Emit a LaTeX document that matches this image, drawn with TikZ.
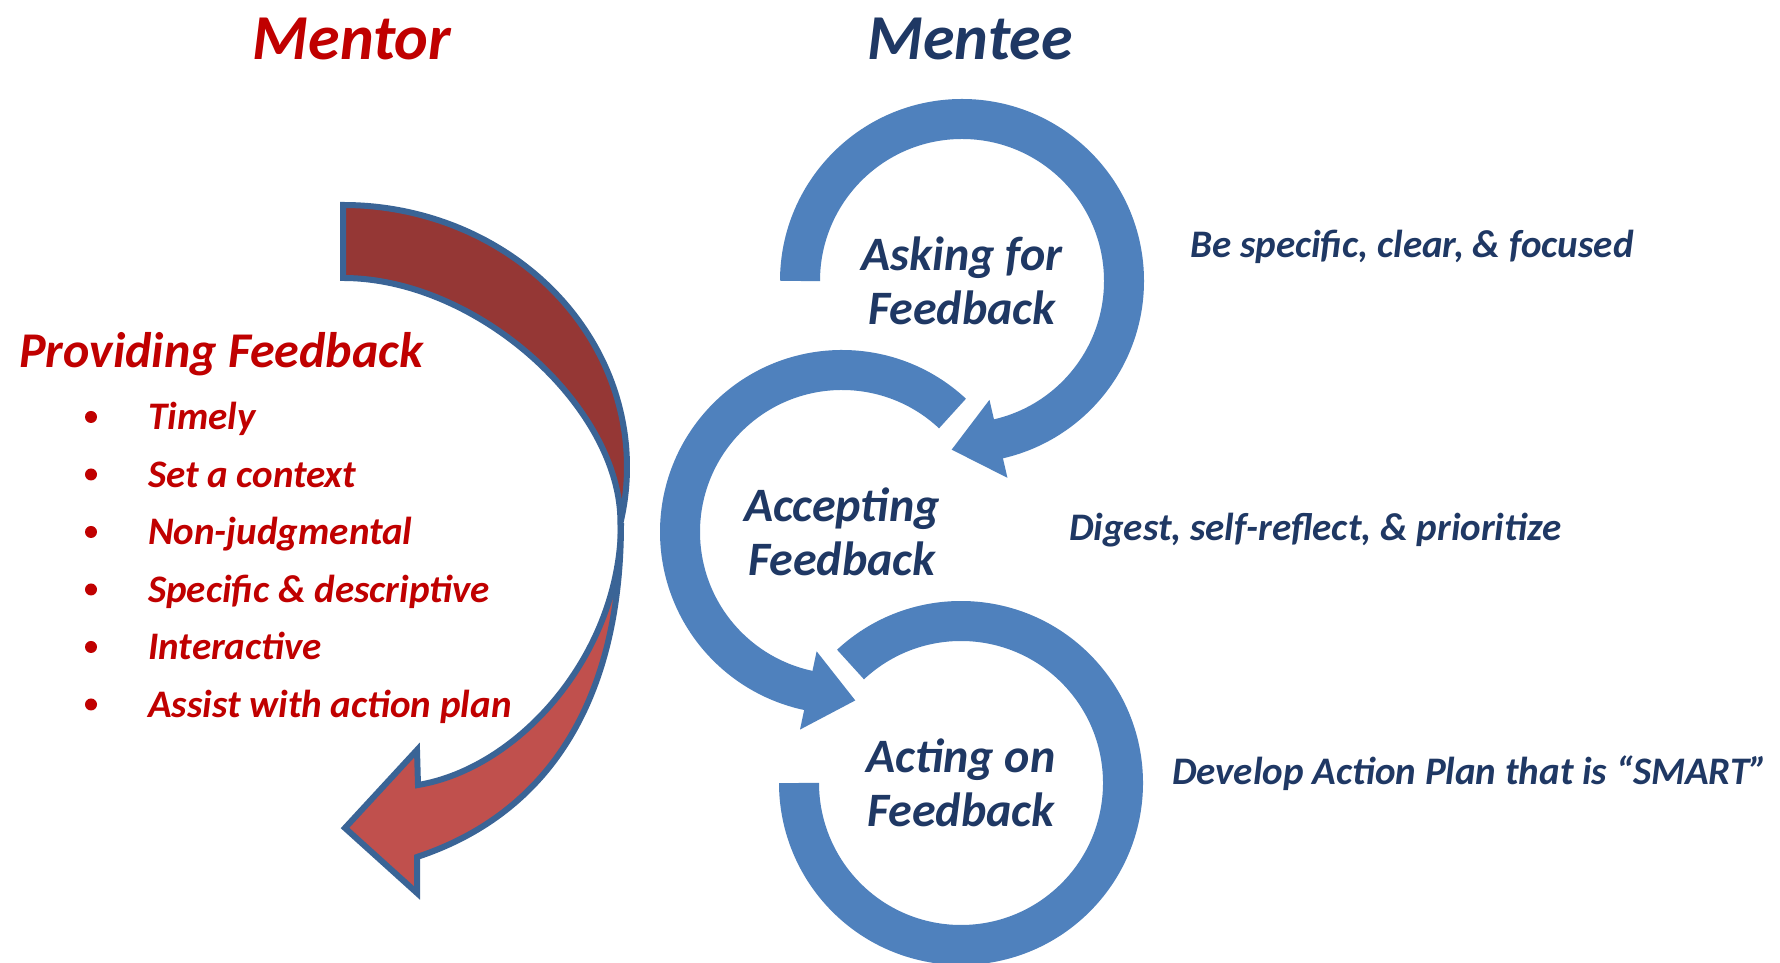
\documentclass[tikz,border=0pt]{standalone}
\usepackage{fontspec}
\setmainfont{Carlito}
\usetikzlibrary{calc, positioning}

\definecolor{mentorred}{HTML}{C00000}
\definecolor{menteenavy}{HTML}{1F3864}
\definecolor{ringblue}{HTML}{4F81BD}
\definecolor{backred}{HTML}{953735}
\definecolor{frontred}{HTML}{C0504D}
\definecolor{edgeblue}{HTML}{3A6496}

\begin{document}
\begin{tikzpicture}[x=1pt, y=1pt,
        headtext/.style={font=\fontsize{64}{72}\selectfont\bfseries\itshape, anchor=base, inner sep=0pt},
        listhead/.style={font=\fontsize{50}{58}\selectfont\bfseries\itshape, text=mentorred, anchor=base west, inner sep=0pt},
        itemtext/.style={font=\fontsize{39}{45}\selectfont\bfseries\itshape, text=mentorred, anchor=base west, inner sep=0pt},
        itemdot/.style={circle, fill=mentorred, inner sep=0pt, minimum size=12pt},
        notetext/.style={font=\fontsize{39}{45}\selectfont\bfseries\itshape, text=menteenavy, anchor=base west, inner sep=0pt},
        stagelabel/.style={font=\fontsize{48}{54}\selectfont\bfseries\itshape, text=menteenavy, align=center, inner sep=0pt},
        ringarc/.style={draw=ringblue, line width=40pt},
        shaft/.style={draw=edgeblue, line width=6pt}]
        \fill[white] (0,0) rectangle (1780,963);
        \useasboundingbox (0,0) rectangle (1780,963);
        % Headings
        \node[headtext, text=mentorred] (mentor) at (352,903) {Mentor};
        \node[headtext, text=menteenavy] (mentee) at (970,903) {Mentee};
        % Curved arrow: back half (tail) ...
        \filldraw[shaft, fill=backred]
            (343,758) arc[start angle=90, end angle=-12.3, x radius=284, y radius=262]
            .. controls (621,555) and (478,685) .. (343,685) -- cycle;
        % ... and front half with the head
        \filldraw[shaft, fill=frontred]
            (621,440) .. controls (621,265) and (550,150) .. (417,106)
            -- (417,70) -- (345,135) -- (417,213) -- (418,178)
            .. controls (520,195) and (621,310) .. (621,440) -- cycle;
        % Mentor list
        \node[listhead] (providing) at (19,595) {Providing Feedback};
        \foreach \txt [count=\i] in {Timely, Set a context, Non-judgmental, Specific \& descriptive, Interactive, Assist with action plan} {
            \node[itemtext] (item\i) at (148,590.5-57.5*\i) {\txt};
            \node[itemdot] (dot\i) at (91,603.5-57.5*\i) {};
        }
        % Mentee cycle
        \node[stagelabel] (ask) at (962,682) {Asking for\\Feedback};
        \node[stagelabel] (accept) at (842,431) {Accepting\\Feedback};
        \node[stagelabel] (act) at (961,180) {Acting on\\Feedback};
        \draw[ringarc] (ask.center) ++(180:162) arc[start angle=180, end angle=-78, radius=162];
        \fill[ringblue] ($(ask.center)+(-77:122)$) -- ($(ask.center)+(-77:202)$)
            -- ($(ask.center)+(-77:162)+(-167:48)$) -- cycle;
        \draw[ringarc] (accept.center) ++(47:162) arc[start angle=47, end angle=259, radius=162];
        \fill[ringblue] ($(accept.center)+(258:122)$) -- ($(accept.center)+(258:202)$)
            -- ($(accept.center)+(258:162)+(348:48)$) -- cycle;
        \draw[ringarc] (act.center) ++(133:162) arc[start angle=133, end angle=-180, radius=162];
        % Notes beside each stage
        \node[notetext] (askNote) at (1190,705) {Be specific, clear, \& focused};
        \node[notetext] (acceptNote) at (1069,422) {Digest, self-reflect, \& prioritize};
        \node[notetext] (actNote) at (1172,178) {Develop Action Plan that is “SMART”};
\end{tikzpicture}
\end{document}
